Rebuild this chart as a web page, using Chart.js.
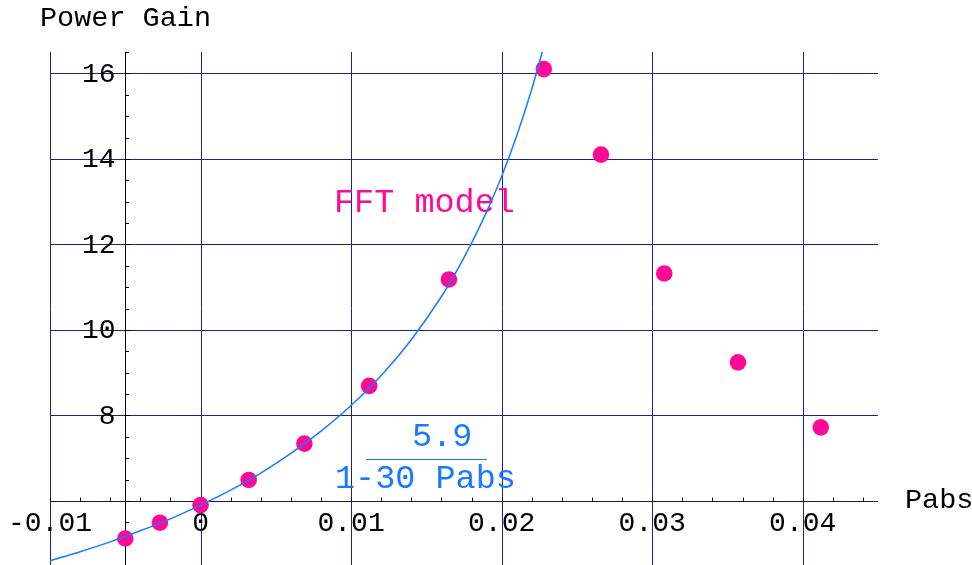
<!DOCTYPE html>
<html>
<head>
<meta charset="utf-8">
<script src="https://cdn.jsdelivr.net/npm/chart.js@4/dist/chart.umd.min.js"></script>
<style>
  html, body { margin: 0; padding: 0; background: #fff; overflow: hidden; }
  canvas { display: block; }
</style>
</head>
<body>
<canvas id="gain" width="972" height="565"></canvas>
<script>
// measured points (Pabs, power gain)
const pabs = [-0.005, -0.0027, 0.0, 0.0032, 0.0069, 0.0112, 0.0165, 0.0228, 0.0266, 0.0308, 0.0357, 0.0412];
const gain = [5.12, 5.49, 5.90, 6.49, 7.34, 8.69, 11.18, 16.10, 14.10, 11.32, 9.24, 7.72];

// model curve 5.9/(1-30 Pabs)
const modelX = [-0.01, -0.008, -0.006, -0.004, -0.002, 0, 0.002, 0.004, 0.006, 0.008, 0.010, 0.012, 0.014, 0.016, 0.017, 0.018, 0.019, 0.020, 0.021, 0.022, 0.0227];
const modelY = [4.60, 4.81, 5.04, 5.30, 5.58, 5.90, 6.25, 6.65, 7.11, 7.63, 8.23, 8.93, 9.77, 10.78, 11.37, 12.03, 12.76, 13.59, 14.54, 15.63, 16.50];

const xTicks = [-0.01, 0, 0.01, 0.02, 0.03, 0.04];
const xTickLabels = ["-0.01", "0", "0.01", "0.02", "0.03", "0.04"];
const yTicks = [8, 10, 12, 14, 16];
const yTickLabels = ["8", "10", "12", "14", "16"];

const FONT = "'Liberation Mono', 'Courier New', monospace";
const GRID = "#20208a";
const PINK = "#ff0a96";
const BLUE = "#1a7aff";

const axesPlugin = {
  id: "mmaAxes",
  beforeDatasetsDraw(chart) {
    const ctx = chart.ctx;
    const xs = chart.scales.x, ys = chart.scales.y;
    const area = chart.chartArea;
    ctx.save();

    // grid
    ctx.strokeStyle = GRID;
    ctx.lineWidth = 1;
    xTicks.forEach(v => {
      const px = Math.round(xs.getPixelForValue(v)) + 0.5;
      ctx.beginPath(); ctx.moveTo(px, area.top); ctx.lineTo(px, area.bottom); ctx.stroke();
    });
    yTicks.forEach(v => {
      const py = Math.round(ys.getPixelForValue(v)) + 0.5;
      ctx.beginPath(); ctx.moveTo(area.left, py); ctx.lineTo(area.right, py); ctx.stroke();
    });

    // axes cross at (-0.005, 6)
    const ox = Math.round(xs.getPixelForValue(-0.005)) + 0.5;
    const oy = Math.round(ys.getPixelForValue(6)) + 0.5;
    ctx.strokeStyle = "#000";
    ctx.beginPath(); ctx.moveTo(ox, area.top); ctx.lineTo(ox, area.bottom); ctx.stroke();
    ctx.strokeStyle = "#1a1a3a";
    ctx.beginPath(); ctx.moveTo(area.left, oy); ctx.lineTo(area.right, oy); ctx.stroke();

    // minor ticks
    ctx.strokeStyle = "#000";
    for (let i = 0; i <= 27; i++) {
      const v = -0.01 + i * 0.002;
      const px = Math.round(xs.getPixelForValue(v)) + 0.5;
      ctx.beginPath(); ctx.moveTo(px, oy); ctx.lineTo(px, oy - 4); ctx.stroke();
    }
    for (let i = 0; i <= 24; i++) {
      const v = 4.5 + i * 0.5;
      const py = Math.round(ys.getPixelForValue(v)) + 0.5;
      const len = (v % 2 === 0) ? 5 : 3.5;
      ctx.beginPath(); ctx.moveTo(ox, py); ctx.lineTo(ox + len, py); ctx.stroke();
    }

    // tick labels
    ctx.fillStyle = "#000";
    ctx.font = "28px " + FONT;
    ctx.textAlign = "center";
    ctx.textBaseline = "middle";
    xTicks.forEach((v, i) => {
      ctx.fillText(xTickLabels[i], xs.getPixelForValue(v), oy + 22);
    });
    ctx.textAlign = "right";
    yTicks.forEach((v, i) => {
      ctx.fillText(yTickLabels[i], ox - 10, ys.getPixelForValue(v) + 1);
    });

    // axis titles
    ctx.textAlign = "left";
    ctx.textBaseline = "alphabetic";
    ctx.font = "28.5px " + FONT;
    ctx.fillText("Power Gain", 40, 26);
    ctx.fillText("Pabs", 905, 508);

    // annotations
    ctx.font = "33.5px " + FONT;
    ctx.fillStyle = PINK;
    ctx.fillText("FFT model", 334, 212);
    ctx.fillStyle = BLUE;
    ctx.fillText("5.9", 412, 446);
    ctx.fillText("1-30 Pabs", 335, 488);
    ctx.strokeStyle = BLUE;
    ctx.beginPath(); ctx.moveTo(366, 459.5); ctx.lineTo(487, 459.5); ctx.stroke();

    ctx.restore();
  }
};

new Chart(document.getElementById("gain"), {
  type: "scatter",
  data: {
    datasets: [
      {
        label: "model",
        data: modelX.map((x, i) => ({ x: x, y: modelY[i] })),
        showLine: true,
        borderColor: BLUE,
        borderWidth: 1.5,
        pointRadius: 0,
        cubicInterpolationMode: "monotone",
      },
      {
        label: "FFT",
        data: pabs.map((x, i) => ({ x: x, y: gain[i] })),
        backgroundColor: PINK,
        borderWidth: 0,
        pointRadius: 8.3,
        clip: false,
      },
    ],
  },
  options: {
    responsive: false,
    animation: false,
    layout: { autoPadding: false, padding: { left: 50, right: 94, top: 52, bottom: 0 } },
    plugins: { legend: { display: false }, tooltip: { enabled: false } },
    scales: {
      x: { type: "linear", display: false, min: -0.01, max: 0.045 },
      y: { type: "linear", display: false, min: 4.5, max: 16.5 },
    },
  },
  plugins: [axesPlugin],
});
</script>
</body>
</html>
